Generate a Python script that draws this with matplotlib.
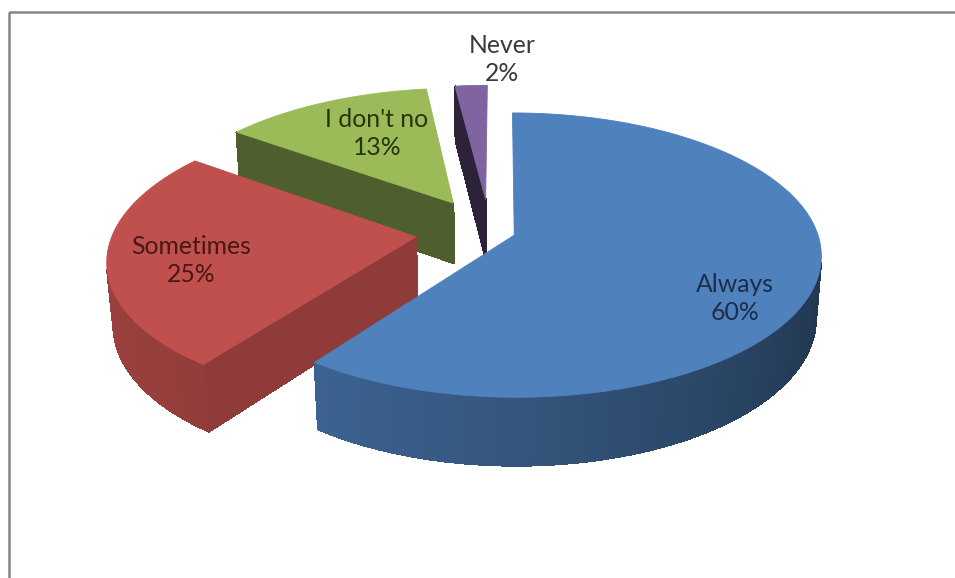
import numpy as np
import matplotlib.pyplot as plt
from matplotlib.patches import Polygon, Rectangle
from matplotlib.colors import to_rgb

labels = ['Always', 'Sometimes', "I don't no", 'Never']
values = [60, 25, 13, 2]
top_colors = ['#4F81BD', '#C0504D', '#9BBB59', '#8064A2']
text_colors = ['#1b2d48', '#4a1715', '#27340f', '#3a3a3a']
explode = [0.085, 0.245, 0.245, 0.24]
cut_shade = [0.65, 0.74, 0.5, 0.35]
label_r = [0.72, 0.74, 0.58, 1.0]
label_shift = [(6, 31), (3, 7), (2, -9), (31, -26)]   # pixels

# camera / perspective settings (pixels)
elev = np.radians(27.2)
dist = 6.36
focal = 1925
cam_x, cam_y = 500, 231.5
pie_x0 = -0.034
height = 0.232
light = np.array([-0.95, 0.0, -0.3])
light = light / np.linalg.norm(light)
cam = np.array([0.0, dist * np.sin(elev), -dist * np.cos(elev)])


def project(X, Y, Z):
    X, Y, Z = np.asarray(X, float), np.asarray(Y, float), np.asarray(Z, float)
    yp = Y * np.cos(elev) + Z * np.sin(elev)
    zp = -Y * np.sin(elev) + Z * np.cos(elev)
    return cam_x + focal * X / (dist + zp), cam_y - focal * yp / (dist + zp)


def shade(color, f):
    r, g, b = to_rgb(color)
    return (r * f, g * f, b * f)


def face(pts):
    pts = np.array(pts)
    sx, sy = project(pts[:, 0], pts[:, 1], pts[:, 2])
    return np.column_stack([sx, sy])


def facing(n, p):
    v = cam - p
    return np.dot(n, v) / np.linalg.norm(v)


fig = plt.figure(figsize=(9.55, 5.78), dpi=100)
ax = fig.add_axes([0, 0, 1, 1])
ax.set_xlim(0, 955)
ax.set_ylim(578, 0)
ax.axis('off')

fracs = np.array(values, float) / sum(values)
ends = np.cumsum(fracs) * 2 * np.pi
starts = ends - fracs * 2 * np.pi

slices = []
for i in range(len(values)):
    t0, t1 = starts[i], ends[i]
    mid = (t0 + t1) / 2
    cx = pie_x0 + explode[i] * np.sin(mid)
    cz = explode[i] * np.cos(mid)
    cen = np.array([cx + 0.5 * np.sin(mid), 0, cz + 0.5 * np.cos(mid)])
    slices.append((np.linalg.norm(cam - cen), i, t0, t1, mid, cx, cz))

# far slices first
slices.sort(key=lambda s: -s[0])

for _, i, t0, t1, mid, cx, cz in slices:
    col = top_colors[i]
    faces = []
    # cut faces
    for t, n in [(t0, np.array([-np.cos(t0), 0, np.sin(t0)])),
                 (t1, np.array([np.cos(t1), 0, -np.sin(t1)]))]:
        rx, rz = cx + np.sin(t), cz + np.cos(t)
        p = np.array([(cx + rx) / 2, -height / 2, (cz + rz) / 2])
        if facing(n, p) > 0.05:
            pts = [(cx, 0, cz), (rx, 0, rz), (rx, -height, rz), (cx, -height, cz)]
            faces.append((np.linalg.norm(cam - p), pts, shade(col, cut_shade[i])))
    # outer curved side
    th = np.linspace(t0, t1, max(int(np.degrees(t1 - t0)), 2) + 1)
    for a, b in zip(th[:-1], th[1:]):
        m = (a + b) / 2
        n = np.array([np.sin(m), 0, np.cos(m)])
        p = np.array([cx + np.sin(m), -height / 2, cz + np.cos(m)])
        if facing(n, p) > 0:
            f = 0.6 + 0.2 * np.dot(n, light)
            pts = [(cx + np.sin(a), 0, cz + np.cos(a)), (cx + np.sin(b), 0, cz + np.cos(b)),
                   (cx + np.sin(b), -height, cz + np.cos(b)), (cx + np.sin(a), -height, cz + np.cos(a))]
            faces.append((np.linalg.norm(cam - p), pts, shade(col, f)))
    faces.sort(key=lambda q: -q[0])
    for _, pts, c in faces:
        ax.add_patch(Polygon(face(pts), closed=True, facecolor=c, edgecolor=c,
                             lw=0.8, antialiased=False))
    # top face
    th = np.linspace(t0, t1, 200)
    top = [(cx, 0, cz)] + [(cx + np.sin(t), 0, cz + np.cos(t)) for t in th]
    ax.add_patch(Polygon(face(top), closed=True, facecolor=col, edgecolor=col, lw=0.6))

# data labels
for i in range(len(values)):
    mid = (starts[i] + ends[i]) / 2
    cx = pie_x0 + explode[i] * np.sin(mid)
    cz = explode[i] * np.cos(mid)
    lx, ly = project(cx + label_r[i] * np.sin(mid), 0, cz + label_r[i] * np.cos(mid))
    ax.text(lx + label_shift[i][0], ly + label_shift[i][1], f'{labels[i]}\n{values[i]}%',
            ha='center', va='center', fontsize=17.8, family='Lato',
            color=text_colors[i], linespacing=1.25)

# chart frame
ax.add_patch(Rectangle((9, 12), 1000, 600, fill=False, ec='#858585', lw=1.8))

fig.savefig('out.png', dpi=100)
